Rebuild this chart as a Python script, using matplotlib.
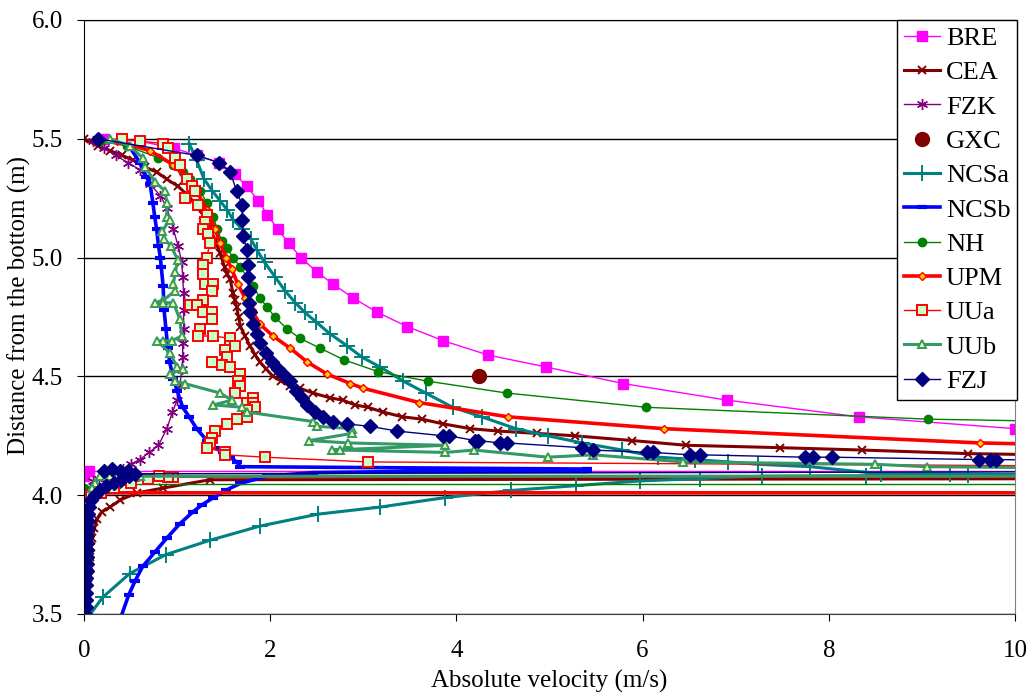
import numpy as np
import matplotlib
matplotlib.use("Agg")
import matplotlib.pyplot as plt

plt.rcParams['font.family'] = ['Liberation Serif', 'DejaVu Serif']

# each series: (velocity m/s, height m), upper branch then return branch
bre = [(0.22, 5.50), (0.60, 5.49), (0.97, 5.46), (1.21, 5.43), (1.45, 5.40), (1.62, 5.35),
       (1.75, 5.30), (1.87, 5.24), (1.97, 5.18), (2.08, 5.12), (2.20, 5.06), (2.33, 5.00),
       (2.50, 4.94), (2.67, 4.89), (2.89, 4.83), (3.15, 4.77), (3.47, 4.71), (3.86, 4.65),
       (4.34, 4.59), (4.96, 4.54), (5.79, 4.47), (6.91, 4.40), (8.32, 4.33), (10.0, 4.28),
       (12.0, 4.24), (12.0, 4.10), (0.05, 4.10), (0.0, 4.08), (0.0, 4.00), (0.0, 3.90),
       (0.0, 3.80), (0.0, 3.70), (0.0, 3.60), (0.0, 3.50)]

cea = [(0.00, 5.50), (0.15, 5.47), (0.28, 5.45), (0.41, 5.43), (0.53, 5.41), (0.66, 5.38),
       (0.78, 5.36), (0.89, 5.33), (1.01, 5.30), (1.12, 5.26), (1.21, 5.22), (1.28, 5.18),
       (1.35, 5.13), (1.41, 5.07), (1.46, 5.02), (1.51, 4.96), (1.54, 4.93), (1.57, 4.91),
       (1.60, 4.85), (1.62, 4.82), (1.64, 4.79), (1.66, 4.75), (1.68, 4.71), (1.73, 4.67),
       (1.78, 4.63), (1.84, 4.59), (1.89, 4.56), (1.96, 4.53), (2.03, 4.50), (2.12, 4.48),
       (2.21, 4.46), (2.32, 4.45), (2.46, 4.43), (2.64, 4.41), (2.78, 4.40), (2.91, 4.38),
       (3.05, 4.37), (3.21, 4.35), (3.42, 4.33), (3.63, 4.32), (3.86, 4.30), (4.15, 4.28),
       (4.45, 4.27), (4.87, 4.26), (5.27, 4.25), (5.89, 4.23), (6.47, 4.21), (7.48, 4.20),
       (8.36, 4.19), (9.50, 4.175), (12.0, 4.16), (12.0, 4.07), (1.35, 4.065), (0.85, 4.03),
       (0.57, 4.01), (0.39, 3.98), (0.28, 3.95), (0.19, 3.93), (0.14, 3.90), (0.11, 3.86),
       (0.09, 3.82), (0.07, 3.78), (0.06, 3.74), (0.05, 3.70), (0.04, 3.65), (0.03, 3.60),
       (0.02, 3.55), (0.00, 3.50)]

fzk = [(0.10, 5.49), (0.22, 5.46), (0.34, 5.43), (0.47, 5.40), (0.60, 5.37), (0.71, 5.31),
       (0.82, 5.26), (0.89, 5.21), (0.96, 5.12), (1.01, 5.05), (1.05, 4.98), (1.06, 4.92),
       (1.07, 4.85), (1.07, 4.78), (1.07, 4.70), (1.06, 4.64), (1.06, 4.58), (1.05, 4.53),
       (1.03, 4.46), (1.00, 4.40), (0.95, 4.35), (0.89, 4.28), (0.80, 4.21), (0.70, 4.18),
       (0.60, 4.15), (0.50, 4.13), (0.42, 4.11), (0.33, 4.09), (0.24, 4.08), (0.16, 4.07),
       (0.10, 4.06), (0.06, 4.03), (0.04, 4.00), (0.03, 3.95), (0.03, 3.90), (0.02, 3.85),
       (0.02, 3.80), (0.02, 3.72), (0.02, 3.65), (0.01, 3.58), (0.01, 3.50)]

gxc = [(4.24, 4.50)]

ncsa = [(1.13, 5.48), (1.21, 5.41), (1.29, 5.33), (1.38, 5.28), (1.46, 5.24), (1.54, 5.20),
        (1.60, 5.16), (1.70, 5.12), (1.79, 5.08), (1.86, 5.03), (1.94, 4.98), (2.05, 4.92),
        (2.16, 4.86), (2.27, 4.81), (2.37, 4.77), (2.49, 4.73), (2.64, 4.68), (2.82, 4.63),
        (2.99, 4.58), (3.18, 4.54), (3.43, 4.48), (3.67, 4.43), (3.96, 4.37), (4.27, 4.33),
        (4.64, 4.28), (4.98, 4.25), (5.35, 4.22), (5.78, 4.19), (6.17, 4.16), (6.56, 4.15),
        (6.92, 4.14), (7.24, 4.13), (7.80, 4.12), (8.56, 4.09), (9.30, 4.09), (10.3, 4.085),
        (12.0, 4.085), (12.0, 4.085), (9.50, 4.085), (8.40, 4.082), (7.28, 4.08), (6.62, 4.07),
        (5.97, 4.06), (5.28, 4.04), (4.59, 4.02), (3.88, 3.99), (3.18, 3.95), (2.51, 3.92),
        (1.89, 3.87), (1.35, 3.81), (0.88, 3.75), (0.49, 3.67), (0.20, 3.57), (0.05, 3.49)]

ncsb = [(0.50, 5.46), (0.60, 5.40), (0.67, 5.34), (0.71, 5.31), (0.74, 5.23), (0.76, 5.17),
        (0.78, 5.12), (0.80, 5.05), (0.82, 5.00), (0.83, 4.96), (0.85, 4.88), (0.86, 4.78),
        (0.88, 4.70), (0.90, 4.62), (0.92, 4.56), (0.96, 4.49), (1.00, 4.44), (1.06, 4.37),
        (1.13, 4.33), (1.21, 4.28), (1.32, 4.23), (1.41, 4.20), (1.49, 4.18), (1.57, 4.16),
        (1.64, 4.14), (1.68, 4.12), (5.40, 4.11), (5.40, 4.10), (3.50, 4.10), (2.46, 4.095),
        (1.97, 4.08), (1.68, 4.05), (1.52, 4.02), (1.39, 3.99), (1.27, 3.96), (1.17, 3.93),
        (1.03, 3.88), (0.89, 3.82), (0.76, 3.76), (0.63, 3.70), (0.55, 3.64), (0.48, 3.58),
        (0.39, 3.48)]

nh = [(0.17, 5.49), (0.46, 5.47), (0.80, 5.42), (0.96, 5.39), (1.06, 5.36), (1.14, 5.33),
      (1.25, 5.28), (1.32, 5.23), (1.39, 5.17), (1.43, 5.12), (1.48, 5.07), (1.54, 5.04),
      (1.60, 5.00), (1.68, 4.96), (1.75, 4.92), (1.82, 4.88), (1.89, 4.83), (1.97, 4.79),
      (2.05, 4.75), (2.18, 4.70), (2.32, 4.66), (2.53, 4.62), (2.79, 4.57), (3.16, 4.52),
      (3.69, 4.48), (4.54, 4.43), (6.04, 4.37), (9.07, 4.32), (12.0, 4.30), (12.0, 4.045),
      (0.35, 4.045), (0.0, 4.03), (0.0, 3.90), (0.0, 3.75), (0.0, 3.60), (0.0, 3.50)]

upm = [(0.35, 5.49), (0.71, 5.45), (0.96, 5.39), (1.11, 5.33), (1.21, 5.28), (1.32, 5.20),
       (1.41, 5.12), (1.46, 5.06), (1.53, 5.00), (1.59, 4.95), (1.65, 4.89), (1.73, 4.83),
       (1.80, 4.78), (1.89, 4.72), (2.03, 4.67), (2.21, 4.62), (2.40, 4.56), (2.61, 4.51),
       (2.86, 4.47), (3.00, 4.45), (3.60, 4.39), (4.55, 4.33), (6.23, 4.28), (9.62, 4.22),
       (12.0, 4.20), (12.0, 4.01), (0.12, 4.01), (0.05, 3.98), (0.02, 3.90), (0.01, 3.80),
       (0.0, 3.70), (0.0, 3.60), (0.0, 3.50)]

uua = [(0.41, 5.50), (0.60, 5.49), (0.85, 5.48), (0.90, 5.46), (0.98, 5.42), (1.03, 5.39),
       (1.11, 5.33), (1.16, 5.30), (1.19, 5.28), (1.08, 5.25), (1.22, 5.22), (1.32, 5.18),
       (1.30, 5.15), (1.28, 5.12), (1.33, 5.10), (1.35, 5.06), (1.32, 5.00), (1.28, 4.97),
       (1.28, 4.93), (1.30, 4.89), (1.39, 4.89), (1.37, 4.86), (1.28, 4.82), (1.14, 4.80),
       (1.21, 4.80), (1.28, 4.77), (1.37, 4.77), (1.37, 4.74), (1.25, 4.70), (1.22, 4.67),
       (1.39, 4.67), (1.57, 4.66), (1.57, 4.63), (1.62, 4.63), (1.51, 4.61), (1.54, 4.58),
       (1.37, 4.56), (1.48, 4.55), (1.57, 4.54), (1.68, 4.51), (1.65, 4.48), (1.68, 4.46),
       (1.62, 4.43), (1.75, 4.39), (1.82, 4.41), (1.82, 4.39), (1.84, 4.37), (1.75, 4.36),
       (1.75, 4.33), (1.64, 4.32), (1.54, 4.30), (1.41, 4.27), (1.37, 4.24), (1.35, 4.22),
       (1.32, 4.20), (1.51, 4.18), (1.51, 4.17), (1.94, 4.16), (3.05, 4.14), (12.0, 4.12),
       (12.0, 4.075), (0.96, 4.075), (0.90, 4.075), (0.81, 4.08), (0.69, 4.07), (0.50, 4.05),
       (0.32, 4.03), (0.18, 4.01), (0.08, 4.00), (0.03, 3.95), (0.02, 3.85), (0.01, 3.70),
       (0.0, 3.50)]

uub = [(0.28, 5.50), (0.49, 5.47), (0.63, 5.42), (0.66, 5.38), (0.76, 5.32), (0.87, 5.28),
       (0.89, 5.23), (0.89, 5.17), (0.92, 5.16), (0.84, 5.11), (0.86, 5.08), (0.93, 5.05),
       (1.01, 4.99), (0.98, 4.94), (0.96, 4.89), (0.98, 4.86), (0.85, 4.82), (0.76, 4.81),
       (0.85, 4.81), (0.96, 4.81), (1.03, 4.74), (1.05, 4.67), (0.94, 4.65), (0.85, 4.65),
       (0.78, 4.65), (0.92, 4.60), (1.00, 4.54), (1.06, 4.53), (0.92, 4.51), (0.98, 4.48),
       (1.08, 4.47), (1.46, 4.43), (1.59, 4.40), (1.39, 4.38), (1.70, 4.37), (1.75, 4.35),
       (2.46, 4.31), (2.50, 4.29), (2.88, 4.28), (2.88, 4.26), (2.42, 4.23), (2.84, 4.22),
       (3.88, 4.21), (2.66, 4.19), (2.75, 4.19), (3.88, 4.18), (4.19, 4.19), (4.98, 4.16),
       (5.47, 4.17), (6.43, 4.14), (8.50, 4.13), (9.05, 4.12), (12.0, 4.11), (12.0, 4.08),
       (0.60, 4.08), (0.35, 4.08), (0.28, 4.08), (0.17, 4.08), (0.12, 4.05), (0.09, 4.03),
       (0.07, 4.00), (0.04, 3.92), (0.02, 3.80), (0.01, 3.65), (0.0, 3.50)]

fzj = [(0.15, 5.50), (1.21, 5.43), (1.45, 5.40), (1.57, 5.36), (1.64, 5.28), (1.70, 5.22),
       (1.70, 5.16), (1.71, 5.09), (1.75, 5.03), (1.76, 4.97), (1.76, 4.92), (1.77, 4.86),
       (1.77, 4.81), (1.78, 4.77), (1.82, 4.72), (1.86, 4.68), (1.89, 4.64), (1.95, 4.60),
       (2.02, 4.56), (2.08, 4.53), (2.14, 4.51), (2.21, 4.48), (2.28, 4.44), (2.34, 4.41),
       (2.40, 4.38), (2.48, 4.35), (2.57, 4.33), (2.67, 4.31), (2.82, 4.30), (3.07, 4.29),
       (3.36, 4.27), (3.86, 4.25), (3.92, 4.25), (4.20, 4.23), (4.23, 4.23), (4.47, 4.22),
       (4.54, 4.22), (5.35, 4.20), (5.47, 4.19), (6.05, 4.18), (6.11, 4.18), (6.51, 4.17),
       (6.62, 4.17), (7.74, 4.16), (7.83, 4.16), (8.03, 4.16), (9.61, 4.15), (9.73, 4.15),
       (9.80, 4.15), (12.0, 4.14), (12.0, 4.10), (0.55, 4.09), (0.47, 4.10), (0.39, 4.10),
       (0.30, 4.11), (0.22, 4.10), (0.48, 4.08), (0.40, 4.065), (0.32, 4.05), (0.24, 4.04),
       (0.17, 4.02), (0.12, 4.00), (0.08, 3.98), (0.05, 3.95), (0.04, 3.92), (0.04, 3.89),
       (0.04, 3.86), (0.03, 3.83), (0.03, 3.80), (0.03, 3.77), (0.03, 3.74), (0.03, 3.71),
       (0.03, 3.68), (0.02, 3.65), (0.02, 3.62), (0.02, 3.59), (0.02, 3.56), (0.02, 3.53),
       (0.01, 3.50)]

series = [
    ("BRE", bre, dict(color="#FF00FF", lw=1.0, marker="s", ms=7, mfc="#FF00FF", mec="#FF00FF")),
    ("CEA", cea, dict(color="#800000", lw=2.2, marker="x", ms=6, mew=1.4)),
    ("FZK", fzk, dict(color="#800080", lw=1.0, marker=(6, 2, 0), ms=8, mew=1.0)),
    ("GXC", gxc, dict(color="#800000", lw=0, marker="o", ms=10)),
    ("NCSa", ncsa, dict(color="#008080", lw=2.2, marker="+", ms=11, mew=1.4)),
    ("NCSb", ncsb, dict(color="#0000FF", lw=2.6, marker="_", ms=7, mew=3)),
    ("NH", nh, dict(color="#008000", lw=1.0, marker="o", ms=6)),
    ("UPM", upm, dict(color="#FF0000", lw=2.6, marker="D", ms=4, mfc="#FFCC00", mec="#FF0000", mew=1)),
    ("UUa", uua, dict(color="#FF0000", lw=1.0, marker="s", ms=7, mfc="#CCFFCC", mec="#FF0000", mew=1.4)),
    ("UUb", uub, dict(color="#339966", lw=2.2, marker="^", ms=6, mfc="#FFFF99", mec="#339966", mew=1.4)),
    ("FZJ", fzj, dict(color="#000080", lw=1.0, marker="D", ms=7)),
]

fig = plt.figure(figsize=(10.31, 6.95), dpi=100)
ax = fig.add_axes([84 / 1031, 1 - 614 / 695, (1015 - 84) / 1031, (614 - 20) / 695])

for name, pts, style in series:
    xy = np.array(pts)
    ax.plot(xy[:, 0], xy[:, 1], label=name, **style)

ax.set_xlim(0, 10)
ax.set_ylim(3.5, 6.0)
ax.set_xticks([0, 2, 4, 6, 8, 10])
ax.set_yticks([3.5, 4.0, 4.5, 5.0, 5.5, 6.0])
ax.set_yticklabels(["3.5", "4.0", "4.5", "5.0", "5.5", "6.0"])
ax.yaxis.grid(True, color="black", lw=1.0)
ax.set_axisbelow(True)
ax.tick_params(labelsize=18, direction="out", length=5, color="black")
ax.tick_params(axis="x", pad=14)
ax.tick_params(axis="y", pad=10)
ax.spines["right"].set_color("#808080")
ax.spines["bottom"].set_color("#404040")
ax.spines["top"].set_color("black")
ax.set_xlabel("Absolute velocity (m/s)", fontsize=18)
ax.set_ylabel("Distance from the bottom (m)", fontsize=18)
ax.xaxis.set_label_coords(0.5, -0.094)
ax.yaxis.set_label_coords(-0.057, 0.52)

leg = ax.legend(loc="upper right", bbox_to_anchor=(1017 / 1031, 1 - 20 / 695),
                bbox_transform=fig.transFigure, fontsize=19, frameon=True,
                fancybox=False, framealpha=1, edgecolor="black", borderaxespad=0,
                handlelength=1.4, handletextpad=0.2, labelspacing=0.41, borderpad=0.25)
leg.get_frame().set_linewidth(1.0)

fig.savefig("out.png", dpi=100)
